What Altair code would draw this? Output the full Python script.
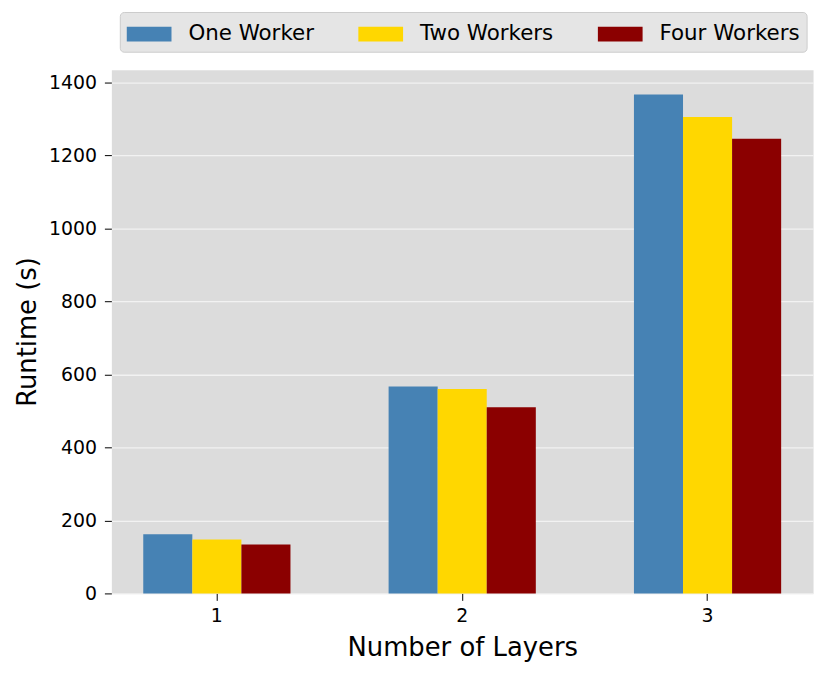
import altair as alt
import pandas as pd

layers = ["1", "2", "3"]
series = ["One Worker", "Two Workers", "Four Workers"]
one_worker = [162, 567, 1367]
two_workers = [148, 560, 1305]
four_workers = [134, 510, 1246]
colors = ["#4682b4", "#ffd700", "#8b0000"]
y_ticks = [0, 200, 400, 600, 800, 1000, 1200, 1400]

rows = []
for name, vals in zip(series, [one_worker, two_workers, four_workers]):
    for layer, v in zip(layers, vals):
        rows.append({"layer": layer, "series": name, "runtime": v})
df = pd.DataFrame(rows)

FONT = "DejaVu Sans"

chart = alt.Chart(df).mark_bar().encode(
    x=alt.X(
        "layer:N",
        sort=layers,
        title="Number of Layers",
        scale=alt.Scale(paddingInner=0.4, paddingOuter=0.13),
        axis=alt.Axis(labelAngle=0, labelFontSize=19, titleFontSize=26,
                      tickSize=7, tickColor="black", domain=False,
                      labelPadding=6, titlePadding=9, grid=False),
    ),
    xOffset=alt.XOffset("series:N", sort=series,
                        scale=alt.Scale(paddingInner=0, paddingOuter=0)),
    y=alt.Y(
        "runtime:Q",
        title="Runtime (s)",
        scale=alt.Scale(domain=[0, 1435], nice=False),
        axis=alt.Axis(values=y_ticks, format="d", labelFontSize=19, titleFontSize=26,
                      tickSize=7, tickColor="black", domain=False,
                      labelPadding=8, titlePadding=8, grid=True,
                      gridColor="#f2f2f2", gridWidth=1.3),
    ),
    color=alt.Color(
        "series:N",
        sort=series,
        scale=alt.Scale(domain=series, range=colors),
        legend=alt.Legend(
            title=None,
            orient="none",
            legendX=8.5,
            legendY=-58,
            direction="horizontal",
            columns=3,
            symbolType="M-1,-0.5H2V0.5H-1Z",
            symbolSize=900,
            symbolStrokeWidth=0,
            labelOffset=32,
            labelFontSize=21.5,
            labelFont=FONT,
            labelColor="black",
            columnPadding=44,
            padding=7,
            fillColor="#e5e5e5",
            strokeColor="#cccccc",
            cornerRadius=4,
        ),
    ),
).properties(
    width=706,
    height=527,
    autosize=alt.AutoSizeParams(type="none"),
    padding={"left": 104, "top": 60, "right": 8, "bottom": 70},
).configure_view(
    fill="#dcdcdc", stroke="transparent"
).configure_axis(
    labelFont=FONT, titleFont=FONT, labelColor="black", titleColor="black",
    titleFontWeight="normal",
)

chart.save("out.html", embed_options={"renderer": "svg", "actions": False})
